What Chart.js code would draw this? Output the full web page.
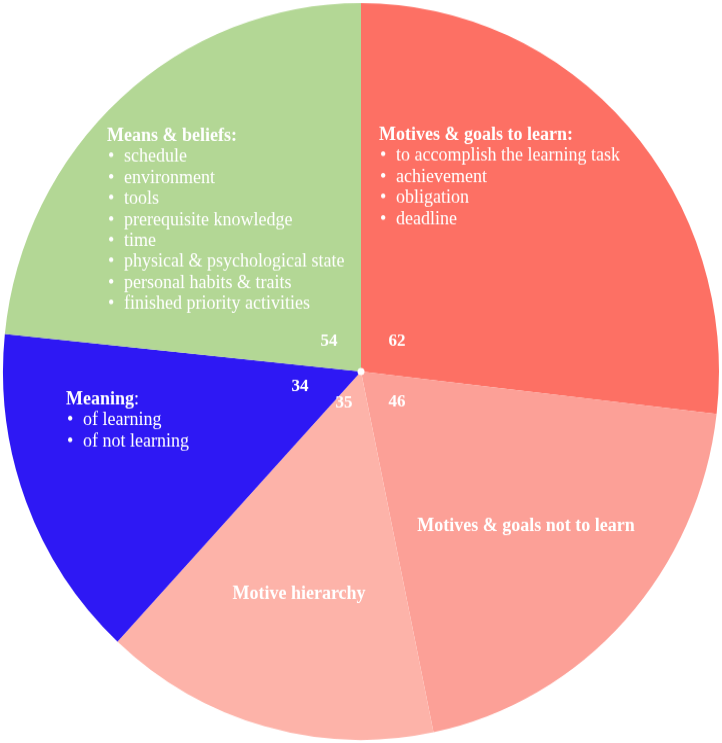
<!DOCTYPE html>
<html>
<head>
<meta charset="utf-8">
<title>Learning motivation factors</title>
<script src="https://cdn.jsdelivr.net/npm/chart.js@4/dist/chart.umd.min.js"></script>
<style>
  html, body { margin: 0; padding: 0; background: #ffffff; }
  #pie { display: block; }
</style>
</head>
<body>
<canvas id="pie" width="722" height="722" style="width:722px;height:743px"></canvas>
<script>
// Categories and their weights, clockwise from 12 o'clock
const categories = [
  'Motives & goals to learn',
  'Motives & goals not to learn',
  'Motive hierarchy',
  'Meaning',
  'Means & beliefs'
];
const values = [62, 46, 35, 34, 54];

// Text written inside each slice: a heading and optional bullet items
const headings = [
  'Motives & goals to learn:',
  'Motives & goals not to learn',
  'Motive hierarchy',
  'Meaning',
  'Means & beliefs:'
];
const bulletItems = [
  ['to accomplish the learning task', 'achievement', 'obligation', 'deadline'],
  [],
  [],
  ['of learning', 'of not learning'],
  ['schedule', 'environment', 'tools', 'prerequisite knowledge', 'time',
   'physical & psychological state', 'personal habits & traits', 'finished priority activities']
];

const sliceColors = ['#fd7064', '#fca097', '#fdb3a9', '#2e18f4', '#b3d795'];

// Placement of texts relative to the pie centre (px); align tells how x is anchored
const blockLayout = [
  { dx: 18,   dy: -225, align: 'left' },
  { dx: 165,  dy: 155,  align: 'center' },
  { dx: -62,  dy: 221,  align: 'center' },
  { dx: -295, dy: 32,   align: 'left' },
  { dx: -254, dy: -224, align: 'left' }
];
const valueLayout = [
  { dx: 36,  dy: -25 },
  { dx: 36,  dy: 34 },
  { dx: -17, dy: 35 },
  { dx: -61, dy: 19 },
  { dx: -32, dy: -25 }
];

const SERIF = '"Liberation Serif", "Times New Roman", Times, serif';
const LINE = 20.4;

const sliceText = {
  id: 'sliceText',
  afterDatasetsDraw(chart) {
    const ctx = chart.ctx;
    const arc0 = chart.getDatasetMeta(0).data[0];
    const cx = arc0.x, cy = arc0.y;
    ctx.save();
    ctx.fillStyle = '#ffffff';
    ctx.textBaseline = 'alphabetic';

    headings.forEach((h, i) => {
      const lay = blockLayout[i];
      const x = cx + lay.dx, y = cy + lay.dy;
      ctx.textAlign = lay.align;
      if (h === 'Meaning') {
        ctx.font = 'bold 18px ' + SERIF;
        ctx.fillText(h, x, y);
        const w = ctx.measureText(h).width;
        ctx.font = '18px ' + SERIF;
        ctx.textAlign = 'left';
        ctx.fillText(':', x + w, y);
      } else {
        ctx.font = 'bold 18px ' + SERIF;
        ctx.fillText(h, x, y);
      }
      ctx.font = '18px ' + SERIF;
      ctx.textAlign = 'left';
      bulletItems[i].forEach((item, k) => {
        const ly = y + LINE * (k + 1);
        ctx.fillText('\u2022', x + 1, ly);
        ctx.fillText(item, x + 17, ly);
      });
    });

    // Slice values near the centre
    ctx.font = 'bold 17px ' + SERIF;
    ctx.textAlign = 'center';
    values.forEach((v, i) => {
      const lay = valueLayout[i];
      ctx.fillText(String(v), cx + lay.dx, cy + lay.dy);
    });

    // Small hub dot
    ctx.beginPath();
    ctx.arc(cx, cy, 3.5, 0, Math.PI * 2);
    ctx.fill();
    ctx.restore();
  }
};

new Chart(document.getElementById('pie'), {
  type: 'pie',
  data: {
    labels: categories,
    datasets: [{
      data: values,
      backgroundColor: sliceColors,
      borderWidth: 0
    }]
  },
  options: {
    responsive: false,
    animation: false,
    layout: { padding: 3 },
    plugins: {
      legend: { display: false },
      tooltip: { enabled: false }
    }
  },
  plugins: [sliceText]
});
</script>
</body>
</html>
